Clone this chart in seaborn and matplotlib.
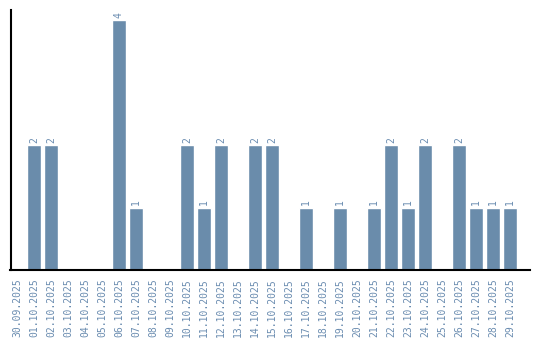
import matplotlib
matplotlib.use("Agg")
import matplotlib.pyplot as plt
import seaborn as sns
import pandas as pd

dates = ["30.09.2025", "01.10.2025", "02.10.2025", "03.10.2025", "04.10.2025",
         "05.10.2025", "06.10.2025", "07.10.2025", "08.10.2025", "09.10.2025",
         "10.10.2025", "11.10.2025", "12.10.2025", "13.10.2025", "14.10.2025",
         "15.10.2025", "16.10.2025", "17.10.2025", "18.10.2025", "19.10.2025",
         "20.10.2025", "21.10.2025", "22.10.2025", "23.10.2025", "24.10.2025",
         "25.10.2025", "26.10.2025", "27.10.2025", "28.10.2025", "29.10.2025"]
counts = [0, 2, 2, 0, 0, 0, 4, 1, 0, 0,
          2, 1, 2, 0, 2, 2, 0, 1, 0, 1,
          0, 1, 2, 1, 2, 0, 2, 1, 1, 1]

df = pd.DataFrame({"date": dates, "count": counts})

sns.set_style("white")
plt.rcParams["font.family"] = ["DejaVu Sans Mono", "DejaVu Sans"]

color = "#6a8cab"
text_color = "#6a8cb0"

fig = plt.figure(figsize=(5.4, 3.4), dpi=100)
ax = fig.add_axes([10.5 / 540, 70 / 340, 519.5 / 540, 260 / 340])

sns.barplot(data=df, x="date", y="count", color=color, saturation=1,
            width=0.82, ax=ax)

for i, v in enumerate(counts):
    if v > 0:
        ax.text(i, v + 0.04, str(v), rotation=90, ha="center", va="bottom",
                fontsize=7, color=text_color)

ax.set_xlim(-0.38, 30.18)
ax.set_ylim(0, 4.16)
ax.set_xlabel("")
ax.set_ylabel("")
ax.set_yticks([])
ax.tick_params(axis="x", length=0, pad=6, labelsize=7, labelcolor=text_color,
               rotation=90)
for lbl in ax.get_xticklabels():
    lbl.set_va("top")
sns.despine(ax=ax)
for s in ["left", "bottom"]:
    ax.spines[s].set_color("black")
    ax.spines[s].set_linewidth(1.5)

fig.savefig("out.png", dpi=100)
